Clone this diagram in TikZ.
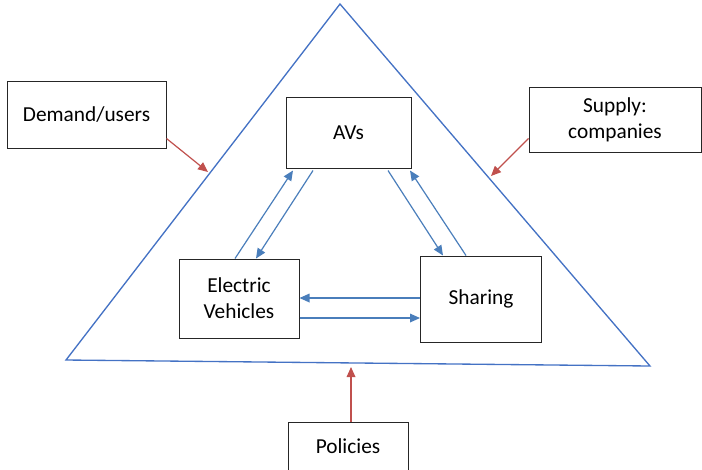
\documentclass[tikz,border=0pt]{standalone}
\usepackage{fontspec}
\setmainfont{Carlito}
\usetikzlibrary{arrows.meta,calc}
\definecolor{triblue}{HTML}{4472C4}
\definecolor{arrblue}{HTML}{4A7EBB}
\definecolor{arrred}{HTML}{C0504D}
\definecolor{boxline}{HTML}{262626}
\begin{document}
\begin{tikzpicture}[x=0.75pt,y=-0.75pt,
  box/.style={draw=boxline,line width=0.75pt,fill=white,align=center,inner sep=0pt,
    font=\fontsize{16}{19.5}\selectfont},
  barrow/.style={draw=arrblue,line width=0.9pt,-{Triangle[length=7.5pt,width=6.5pt]}},
  rarrow/.style={draw=arrred,line width=0.9pt,-{Triangle[length=7.5pt,width=6.5pt]}},
  tri/.style={draw=triblue,line width=1pt,line join=miter}]
\useasboundingbox (0,0) rectangle (702,469);
\clip (0,0) rectangle (702,469);
% triangle
\coordinate (apex) at (340,4);
\coordinate (tl) at (66,360);
\coordinate (tr) at (650,366);
\draw[tri] (tl) -- (apex) -- (tr) -- cycle;
% boxes
\node[box,minimum width=159*0.75pt,minimum height=67*0.75pt] (demand) at (86.5,114.5) {Demand/users};
\node[box,minimum width=172*0.75pt,minimum height=65*0.75pt] (supply) at (615,119.5) {Supply:\\companies};
\node[box,minimum width=125*0.75pt,minimum height=71*0.75pt] (avs) at (348.5,132.5) {AVs};
\node[box,minimum width=120*0.75pt,minimum height=79*0.75pt] (ev) at (239,298.5) {Electric\\Vehicles};
\node[box,minimum width=121*0.75pt,minimum height=86*0.75pt] (sharing) at (481,299) {Sharing};
\node[box,minimum width=120*0.75pt,minimum height=48*0.75pt] (policies) at (348,446) {Policies};
% blue arrows
\draw[barrow] ($(ev.north)+(-4,0)$) -- ($(avs.south)+(-55.5,2)$);
\draw[barrow] ($(avs.south)+(-35.5,2)$) -- ($(ev.north)+(17,0)$);
\draw[barrow] ($(avs.south)+(39.5,2)$) -- ($(sharing.north)+(-38,0)$);
\draw[barrow] ($(sharing.north)+(-15,0)$) -- ($(avs.south)+(61.5,2)$);
\draw[barrow] ($(sharing.west)+(0,-1)$) -- ($(ev.east)+(0,-0.5)$);
\draw[barrow] ($(ev.east)+(0,19.5)$) -- ($(sharing.west)+(0,19)$);
% red arrows
\coordinate (dtip) at (208,172);
\coordinate (stip) at (491,176);
\coordinate (ptip) at (351,367);
\draw[rarrow] ($(demand.south east)+(0,-10)$) -- (dtip);
\draw[rarrow] ($(supply.south west)+(0,-14)$) -- (stip);
\draw[rarrow] ($(policies.north)+(3,0)$) -- (ptip);
\end{tikzpicture}
\end{document}
